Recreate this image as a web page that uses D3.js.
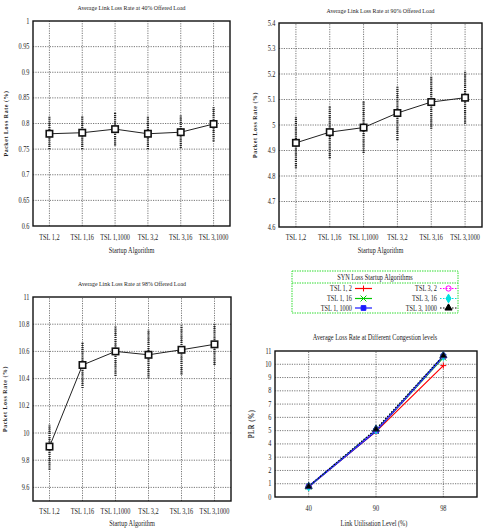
<!DOCTYPE html>
<html>
<head>
<meta charset="utf-8">
<script src="https://cdn.jsdelivr.net/npm/d3@7"></script>
<style>
  body { margin: 0; background: #fff; }
  text { font-family: "Liberation Serif", "DejaVu Serif", serif; fill: #222; }
</style>
</head>
<body>
<script>
// startup algorithms (x categories of the three top/left panels)
var algorithms = ["TSL 1,2", "TSL 1,16", "TSL 1,1000", "TSL 3,2", "TSL 3,16", "TSL 3,1000"];

// 40% offered load
var loss40 = [0.780, 0.782, 0.789, 0.780, 0.783, 0.799];
var low40 = [0.750, 0.750, 0.757, 0.750, 0.752, 0.765];
var high40 = [0.813, 0.815, 0.822, 0.813, 0.816, 0.832];
var ticks40 = [0.6, 0.65, 0.7, 0.75, 0.8, 0.85, 0.9, 0.95, 1];

// 90% offered load
var loss90 = [4.930, 4.972, 4.990, 5.047, 5.090, 5.107];
var low90 = [4.830, 4.870, 4.890, 4.940, 4.985, 5.005];
var high90 = [5.030, 5.075, 5.092, 5.150, 5.192, 5.212];
var ticks90 = [4.6, 4.7, 4.8, 4.9, 5, 5.1, 5.2, 5.3, 5.4];

// 98% offered load
var loss98 = [9.90, 10.50, 10.60, 10.575, 10.612, 10.652];
var low98 = [9.73, 10.33, 10.42, 10.40, 10.43, 10.50];
var high98 = [10.06, 10.67, 10.79, 10.76, 10.79, 10.80];
var ticks98 = [9.6, 9.8, 10, 10.2, 10.4, 10.6, 10.8, 11];

// congestion level chart
var levels = ["40", "90", "98"];
var seriesNames = ["TSL 1, 2", "TSL 1, 16", "TSL 1, 1000", "TSL 3, 2", "TSL 3, 16", "TSL 3, 1000"];
var plrTicks = [0, 1, 2, 3, 4, 5, 6, 7, 8, 9, 10, 11];

var seriesColors = ["#ff0000", "#00c800", "#1a1aff", "#ff00ff", "#00e0e0", "#000000"];
var seriesDash = [null, null, null, "1.5,1.5", "1.5,1.5", "1.5,1.5"];

// gnuplot-like point types drawn as strokes
var plusType = {
  draw: function (ctx, size) {
    var r = Math.sqrt(size) / 1.6;
    ctx.moveTo(-r, 0); ctx.lineTo(r, 0);
    ctx.moveTo(0, -r); ctx.lineTo(0, r);
  }
};
var starType = {
  draw: function (ctx, size) {
    var r = Math.sqrt(size) / 1.6;
    ctx.moveTo(-r, -r); ctx.lineTo(r, r);
    ctx.moveTo(-r, r); ctx.lineTo(r, -r);
    ctx.moveTo(-r, 0); ctx.lineTo(r, 0);
  }
};
var seriesSymbols = [plusType, starType, d3.symbolSquare, d3.symbolCircle, d3.symbolDiamond, d3.symbolTriangle];
var seriesFilled = [false, false, true, false, true, true];

var svg = d3.select("body").append("svg")
  .attr("width", 485)
  .attr("height", 529);

var sx = 0.84; // condensed text

function label(g, x, y, str, size, anchor, opts) {
  opts = opts || {};
  var t = g.append("text")
    .attr("transform", "translate(" + x + "," + y + ")" + (opts.rotate ? " rotate(-90)" : "") + " scale(" + sx + ",1)")
    .attr("text-anchor", anchor)
    .style("font-size", size + "px")
    .text(str);
  if (opts.bold) t.style("font-weight", "bold");
  if (opts.spacing) t.style("letter-spacing", opts.spacing + "px");
  return t;
}

function fmt(v) {
  return String(+v.toFixed(2));
}

function frameAndGrid(g, x, y, xs, yTicks) {
  var x0 = x.range()[0], x1 = x.range()[1];
  var y0 = y.range()[0], y1 = y.range()[1];
  // horizontal grid
  g.append("g").selectAll("line").data(yTicks.filter(function (t) {
    return Math.abs(y(t) - y0) > 1 && Math.abs(y(t) - y1) > 1;
  })).enter().append("line")
    .attr("x1", x0).attr("x2", x1)
    .attr("y1", function (d) { return y(d); })
    .attr("y2", function (d) { return y(d); })
    .attr("stroke", "#555").attr("stroke-width", 0.8)
    .attr("stroke-dasharray", "1.2,1.2");
  // vertical grid
  g.append("g").selectAll("line").data(xs).enter().append("line")
    .attr("x1", function (d) { return x(d); })
    .attr("x2", function (d) { return x(d); })
    .attr("y1", y0).attr("y2", y1)
    .attr("stroke", "#555").attr("stroke-width", 0.8)
    .attr("stroke-dasharray", "1.2,1.2");
  // frame
  g.append("rect")
    .attr("x", x0).attr("y", y1)
    .attr("width", x1 - x0).attr("height", y0 - y1)
    .attr("fill", "none").attr("stroke", "#111").attr("stroke-width", 1.4);
  // y tick labels
  g.append("g").selectAll("text").data(yTicks).enter().append("text")
    .attr("transform", function (d) { return "translate(" + (x0 - 3.5) + "," + (y(d) + 2.5) + ") scale(" + sx + ",1)"; })
    .attr("text-anchor", "end")
    .style("font-size", "7.5px")
    .text(fmt);
}

function errorPanel(cfg) {
  var g = svg.append("g");
  var x = d3.scaleLinear().domain([0.5, algorithms.length + 0.5]).range([cfg.left, cfg.right]);
  var y = d3.scaleLinear().domain(cfg.domain).range([cfg.bottom, cfg.top]);
  var idx = d3.range(algorithms.length).map(function (i) { return i + 1; });

  frameAndGrid(g, x, y, idx, cfg.ticks);

  // x tick labels
  g.append("g").selectAll("text").data(algorithms).enter().append("text")
    .attr("transform", function (d, i) { return "translate(" + x(i + 1) + "," + cfg.xLabelY + ") scale(" + sx + ",1)"; })
    .attr("text-anchor", "middle")
    .style("font-size", "7.5px")
    .text(function (d) { return d; });

  // error bars
  g.append("g").selectAll("line").data(cfg.values).enter().append("line")
    .attr("x1", function (d, i) { return x(i + 1); })
    .attr("x2", function (d, i) { return x(i + 1); })
    .attr("y1", function (d, i) { return y(cfg.low[i]); })
    .attr("y2", function (d, i) { return y(cfg.high[i]); })
    .attr("stroke", "#222").attr("stroke-width", 2.2)
    .attr("stroke-dasharray", "1.2,0.9");

  // mean line
  var line = d3.line()
    .x(function (d, i) { return x(i + 1); })
    .y(function (d) { return y(d); });
  g.append("path").datum(cfg.values)
    .attr("d", line)
    .attr("fill", "none").attr("stroke", "#222").attr("stroke-width", 1);

  // square markers
  g.append("g").selectAll("rect").data(cfg.values).enter().append("rect")
    .attr("x", function (d, i) { return x(i + 1) - 3.2; })
    .attr("y", function (d) { return y(d) - 3.2; })
    .attr("width", 6.4).attr("height", 6.4)
    .attr("fill", "#fff").attr("stroke", "#111").attr("stroke-width", 1.6);

  label(g, (cfg.left + cfg.right) / 2, cfg.titleY, cfg.title, 7, "middle");
  label(g, (cfg.left + cfg.right) / 2, cfg.xTitleY, "Startup Algorithm", 7.5, "middle");
  label(g, cfg.yTitleX, (cfg.top + cfg.bottom) / 2, "Packet Loss Rate (%)", 7, "middle",
    { rotate: true, bold: true, spacing: 0.7 });
}

errorPanel({
  left: 33, right: 230, top: 21, bottom: 226,
  domain: [0.6, 1], ticks: ticks40,
  values: loss40, low: low40, high: high40,
  title: "Average Link Loss Rate at 40% Offered Load",
  titleY: 10, xLabelY: 240, xTitleY: 253, yTitleX: 8
});

errorPanel({
  left: 279, right: 482, top: 23, bottom: 227,
  domain: [4.6, 5.4], ticks: ticks90,
  values: loss90, low: low90, high: high90,
  title: "Average Link Loss Rate at 90% Offered Load",
  titleY: 12.5, xLabelY: 240, xTitleY: 253, yTitleX: 257
});

errorPanel({
  left: 33, right: 231, top: 297, bottom: 501,
  domain: [9.5, 11], ticks: ticks98,
  values: loss98, low: low98, high: high98,
  title: "Average Link Loss Rate at 98% Offered Load",
  titleY: 285.5, xLabelY: 514, xTitleY: 526, yTitleX: 7
});

// ---- congestion level chart ----
(function () {
  var g = svg.append("g");
  var left = 275, right = 477, top = 351, bottom = 497;
  var x = d3.scaleLinear().domain([0.5, levels.length + 0.5]).range([left, right]);
  var y = d3.scaleLinear().domain([0, 11]).range([bottom, top]);
  frameAndGrid(g, x, y, [1, 2, 3], plrTicks);

  g.append("g").selectAll("text").data(levels).enter().append("text")
    .attr("transform", function (d, i) { return "translate(" + x(i + 1) + "," + 511 + ") scale(" + sx + ",1)"; })
    .attr("text-anchor", "middle")
    .style("font-size", "7.5px")
    .text(function (d) { return d; });

  var series = seriesNames.map(function (name, s) {
    return { name: name, values: [loss40[s], loss90[s], loss98[s]] };
  });

  var line = d3.line()
    .x(function (d, i) { return x(i + 1); })
    .y(function (d) { return y(d); });

  series.forEach(function (sr, s) {
    g.append("path").datum(sr.values)
      .attr("d", line)
      .attr("fill", "none")
      .attr("stroke", seriesColors[s])
      .attr("stroke-width", s === 2 ? 1.8 : 1.2)
      .attr("stroke-dasharray", seriesDash[s]);
  });
  series.forEach(function (sr, s) {
    g.append("g").selectAll("path").data(sr.values).enter().append("path")
      .attr("transform", function (d, i) { return "translate(" + x(i + 1) + "," + y(d) + ")"; })
      .attr("d", d3.symbol().type(seriesSymbols[s]).size(22))
      .attr("fill", seriesFilled[s] ? seriesColors[s] : "none")
      .attr("stroke", s === 5 ? "#1a2a6a" : seriesColors[s])
      .attr("stroke-width", 1);
  });

  label(g, 375, 339.5, "Average Loss Rate at Different Congestion levels", 7.5, "middle");
  label(g, 374, 526, "Link Utilisation Level (%)", 7.5, "middle");
  label(g, 254, (top + bottom) / 2, "PLR (%)", 7.5, "middle", { rotate: true, bold: true, spacing: 0.7 });

  // legend
  var lg = svg.append("g");
  lg.append("rect")
    .attr("x", 292).attr("y", 271).attr("width", 166).attr("height", 42)
    .attr("fill", "#fff").attr("stroke", "#33dd33").attr("stroke-width", 1)
    .attr("stroke-dasharray", "1.5,1");
  lg.append("line")
    .attr("x1", 292).attr("x2", 458).attr("y1", 283).attr("y2", 283)
    .attr("stroke", "#33dd33").attr("stroke-width", 1).attr("stroke-dasharray", "1.5,1");
  label(lg, 375, 280, "SYN Loss Startup Algorithms", 7.5, "middle");

  var rowY = [288.5, 298.5, 308];
  seriesNames.forEach(function (name, s) {
    var col = Math.floor(s / 3), row = s % 3;
    var tx = col === 0 ? 352 : 437;
    var lx0 = col === 0 ? 355 : 440;
    var lx1 = lx0 + 17;
    var yy = rowY[row];
    label(lg, tx, yy + 2.5, name, 7.5, "end");
    lg.append("line")
      .attr("x1", lx0).attr("x2", lx1).attr("y1", yy).attr("y2", yy)
      .attr("stroke", seriesColors[s]).attr("stroke-width", 1.2)
      .attr("stroke-dasharray", seriesDash[s]);
    lg.append("path")
      .attr("transform", "translate(" + ((lx0 + lx1) / 2) + "," + yy + ")")
      .attr("d", d3.symbol().type(seriesSymbols[s]).size(22))
      .attr("fill", seriesFilled[s] ? seriesColors[s] : "none")
      .attr("stroke", seriesColors[s])
      .attr("stroke-width", 1);
  });
})();
</script>
</body>
</html>
